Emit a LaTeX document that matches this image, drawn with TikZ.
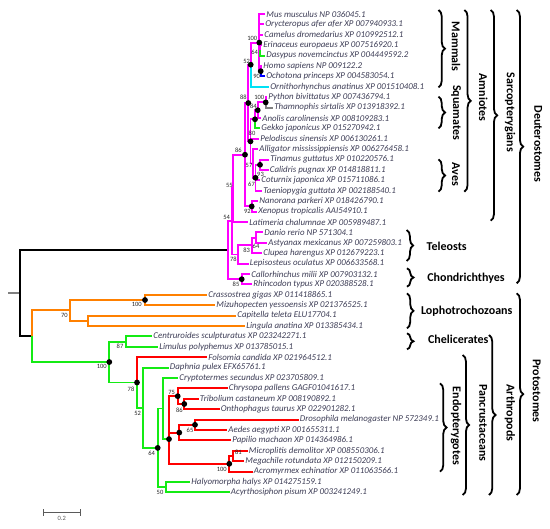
\documentclass[tikz,border=0pt]{standalone}
\usepackage{fontspec}
\setmainfont{Carlito}
\usetikzlibrary{decorations.pathreplacing}
\definecolor{mag}{RGB}{255,0,255}
\definecolor{org}{RGB}{255,128,0}
\definecolor{grn}{RGB}{20,235,20}
\definecolor{rd}{RGB}{255,0,0}
\definecolor{cyn}{RGB}{0,225,245}
\definecolor{blu}{RGB}{0,0,255}
\definecolor{gry}{RGB}{128,128,128}
\definecolor{txt}{RGB}{60,60,85}
\begin{document}
\begin{tikzpicture}[x=1pt,y=-1pt,
  br/.style={line width=1.9pt},
  leaf/.style={anchor=west,inner xsep=1.2pt,inner ysep=0.5pt,text=txt,font=\fontsize{8.9}{10}\selectfont\itshape},
  bs/.style={inner sep=0pt,text=black!85,font=\fontsize{6.5}{7}\selectfont},
  dot/.style={fill=black},
  grp/.style={inner sep=0pt,font=\fontsize{12}{14}\selectfont\bfseries},
  brc/.style={decorate,decoration={brace,amplitude=6.5pt,aspect=0.5},line width=1.8pt}]
\useasboundingbox (0,0) rectangle (550,529);
% ---------- internal nodes ----------
\coordinate (rs) at (8,293.25);
\coordinate (root) at (20,293.25);
\coordinate (D) at (227.7,250.3);
\coordinate (n54) at (232.3,221.4);
\coordinate (n55) at (233.3,188.4);
\coordinate (n86) at (245,154.7);
\coordinate (n88) at (248.3,103.05);
\coordinate (n52) at (250.7,64.7);
\coordinate (nMam) at (259.3,42.6);
\coordinate (nM64) at (260.3,50.4);
\coordinate (nM90) at (260.7,71.2);
\coordinate (n80) at (250.5,141.4);
\coordinate (nSq) at (255,119.3);
\coordinate (n84) at (257.7,110.2);
\coordinate (nPy) at (265.7,102.4);
\coordinate (n57) at (252.7,163.5);
\coordinate (nAv) at (255.5,177.8);
\coordinate (n93) at (260,164.8);
\coordinate (n92) at (251.7,206.4);
\coordinate (n78f) at (237.7,254.5);
\coordinate (n83) at (251.7,245.4);
\coordinate (n64f) at (256,237.6);
\coordinate (nCh) at (241.7,279.2);
\coordinate (nProt) at (31.7,336.2);
\coordinate (n70) at (70,310.4);
\coordinate (n100L) at (145,300);
\coordinate (nCL) at (88.3,320.8);
\coordinate (n100G) at (109.3,362.05);
\coordinate (nChel) at (126,341.6);
\coordinate (n78p) at (137,382.5);
\coordinate (n52p) at (143.3,407.75);
\coordinate (n64p) at (157.7,447.9);
\coordinate (nG) at (163.3,408.55);
\coordinate (nEndo) at (169,439.1);
\coordinate (n75) at (177.7,396.2);
\coordinate (n86i) at (184.3,404);
\coordinate (nDL) at (179.3,432.6);
\coordinate (n65) at (195,424.8);
\coordinate (nHym) at (229.3,463.8);
\coordinate (n81) at (233.3,456);
\coordinate (n50) at (165.7,487.2);
% ---------- leaves (branch ends) ----------
\coordinate (Mus) at (265,14);
\coordinate (Oryc) at (264,24.4);
\coordinate (Came) at (263,34.8);
\coordinate (Erin) at (262,45.2);
\coordinate (Dasy) at (265,55.6);
\coordinate (Homo) at (262,66);
\coordinate (Ocho) at (265,76.4);
\coordinate (Orni) at (269,86.8);
\coordinate (Pyth) at (267,97.2);
\coordinate (Tham) at (273,107.6);
\coordinate (Anol) at (261,118);
\coordinate (Gekk) at (260,128.4);
\coordinate (Pelo) at (259,138.8);
\coordinate (Alli) at (258,149.2);
\coordinate (Tina) at (269,159.6);
\coordinate (Cali) at (268.5,170);
\coordinate (Cotu) at (260,180.4);
\coordinate (Taen) at (262,190.8);
\coordinate (Nano) at (258,201.2);
\coordinate (Xeno) at (257,211.6);
\coordinate (Lati) at (248,222);
\coordinate (Dani) at (263,232.4);
\coordinate (Asty) at (267,242.8);
\coordinate (Clup) at (262,253.2);
\coordinate (Lepi) at (248.5,263.6);
\coordinate (Call) at (250,274);
\coordinate (Rhin) at (252,284.4);
\coordinate (Cras) at (207,294.8);
\coordinate (Mizu) at (215,305.2);
\coordinate (Capi) at (236,315.6);
\coordinate (Ling) at (245,326);
\coordinate (Cent) at (152,336.4);
\coordinate (Limu) at (158,346.8);
\coordinate (Fols) at (207,357.2);
\coordinate (Daph) at (168.5,367.6);
\coordinate (Cryp) at (178,378);
\coordinate (Chry) at (227.5,388.4);
\coordinate (Trib) at (198.5,398.8);
\coordinate (Onth) at (219.5,409.2);
\coordinate (Dros) at (298.5,419.6);
\coordinate (Aede) at (227,430);
\coordinate (Papi) at (231,440.4);
\coordinate (Micr) at (247.5,450.8);
\coordinate (Mega) at (244,461.2);
\coordinate (Acro) at (252.5,471.6);
\coordinate (Haly) at (190,482);
\coordinate (Acyr) at (229.5,492.4);
% ---------- branches ----------
\draw[br,gry] (rs) -- (root);
\foreach \a/\b in {root/D,root/nProt}
  \draw[br,black] (\a) |- (\b);
\foreach \a/\b in {D/n54,D/nCh,n54/n55,n54/n78f,n55/n86,n55/Lati,n86/n88,n86/n92,
  n88/n52,n88/n80,n52/nMam,nMam/Mus,nMam/Oryc,nMam/Came,nMam/nM64,nMam/nM90,
  nM64/Erin,nM90/Homo,n80/nSq,n80/Pelo,n80/n57,nSq/n84,n84/nPy,n84/Anol,nPy/Pyth,
  n57/Alli,n57/nAv,nAv/n93,nAv/Cotu,nAv/Taen,n93/Tina,n93/Cali,n92/Nano,n92/Xeno,
  n78f/n83,n78f/Lepi,n83/n64f,n83/Clup,n64f/Dani,n64f/Asty,nCh/Call,nCh/Rhin}
  \draw[br,mag] (\a) |- (\b);
\draw[br,cyn] (n52) |- (Orni);
\draw[br,grn] (nM64) |- (Dasy);
\draw[br,blu] (nM90) |- (Ocho);
\draw[br,gry] (nPy) |- (Tham);
\draw[br,grn] (nSq) |- (Gekk);
\foreach \a/\b in {nProt/n70,n70/n100L,n70/nCL,n100L/Cras,n100L/Mizu,nCL/Capi,nCL/Ling}
  \draw[br,org] (\a) |- (\b);
\foreach \a/\b in {nProt/n100G,n100G/nChel,n100G/n78p,nChel/Cent,nChel/Limu,n78p/n52p,
  n52p/Daph,n52p/n64p,n64p/nG,n64p/n50,nG/Cryp,nG/nEndo,n50/Haly,n50/Acyr}
  \draw[br,grn] (\a) |- (\b);
\foreach \a/\b in {n78p/Fols,nEndo/n75,nEndo/nDL,nEndo/nHym,n75/Chry,n75/n86i,
  n86i/Trib,n86i/Onth,nDL/n65,nDL/Papi,n65/Dros,n65/Aede,nHym/n81,nHym/Acro,
  n81/Micr,n81/Mega}
  \draw[br,rd] (\a) |- (\b);
% ---------- dots ----------
\foreach \n in {nMam,n52,nM90,n88,nPy,n84,nSq,n80,n86,n93,nAv,n92,nCh,
  n100L,n100G,n78p,n75,n86i,nDL,n65,nEndo,n64p,nHym}
  \fill[dot] (\n) circle (2.9pt);
% ---------- leaf names ----------
\node[leaf] (tMus) at (Mus) {Mus musculus NP 036045.1};
\node[leaf] (tOryc) at (Oryc) {Orycteropus afer afer XP 007940933.1};
\node[leaf] (tCame) at (Came) {Camelus dromedarius XP 010992512.1};
\node[leaf] (tErin) at (Erin) {Erinaceus europaeus XP 007516920.1};
\node[leaf] (tDasy) at (Dasy) {Dasypus novemcinctus XP 004449592.2};
\node[leaf] (tHomo) at (Homo) {Homo sapiens NP 009122.2};
\node[leaf] (tOcho) at (Ocho) {Ochotona princeps XP 004583054.1};
\node[leaf] (tOrni) at (Orni) {Ornithorhynchus anatinus XP 001510408.1};
\node[leaf] (tPyth) at (Pyth) {Python bivittatus XP 007436794.1};
\node[leaf] (tTham) at (Tham) {Thamnophis sirtalis XP 013918392.1};
\node[leaf] (tAnol) at (Anol) {Anolis carolinensis XP 008109283.1};
\node[leaf] (tGekk) at (Gekk) {Gekko japonicus XP 015270942.1};
\node[leaf] (tPelo) at (Pelo) {Pelodiscus sinensis XP 006130261.1};
\node[leaf] (tAlli) at (Alli) {Alligator mississippiensis XP 006276458.1};
\node[leaf] (tTina) at (Tina) {Tinamus guttatus XP 010220576.1};
\node[leaf] (tCali) at (Cali) {Calidris pugnax XP 014818811.1};
\node[leaf] (tCotu) at (Cotu) {Coturnix japonica XP 015711086.1};
\node[leaf] (tTaen) at (Taen) {Taeniopygia guttata XP 002188540.1};
\node[leaf] (tNano) at (Nano) {Nanorana parkeri XP 018426790.1};
\node[leaf] (tXeno) at (Xeno) {Xenopus tropicalis AAI54910.1};
\node[leaf] (tLati) at (Lati) {Latimeria chalumnae XP 005989487.1};
\node[leaf] (tDani) at (Dani) {Danio rerio NP 571304.1};
\node[leaf] (tAsty) at (Asty) {Astyanax mexicanus XP 007259803.1};
\node[leaf] (tClup) at (Clup) {Clupea harengus XP 012679223.1};
\node[leaf] (tLepi) at (Lepi) {Lepisosteus oculatus XP 006633568.1};
\node[leaf] (tCall) at (Call) {Callorhinchus milii XP 007903132.1};
\node[leaf] (tRhin) at (Rhin) {Rhincodon typus XP 020388528.1};
\node[leaf] (tCras) at (Cras) {Crassostrea gigas XP 011418865.1};
\node[leaf] (tMizu) at (Mizu) {Mizuhopecten yessoensis XP 021376525.1};
\node[leaf] (tCapi) at (Capi) {Capitella teleta ELU17704.1};
\node[leaf] (tLing) at (Ling) {Lingula anatina XP 013385434.1};
\node[leaf] (tCent) at (Cent) {Centruroides sculpturatus XP 023242271.1};
\node[leaf] (tLimu) at (Limu) {Limulus polyphemus XP 013785015.1};
\node[leaf] (tFols) at (Fols) {Folsomia candida XP 021964512.1};
\node[leaf] (tDaph) at (Daph) {Daphnia pulex EFX65761.1};
\node[leaf] (tCryp) at (Cryp) {Cryptotermes secundus XP 023705809.1};
\node[leaf] (tChry) at (Chry) {Chrysopa pallens GAGF01041617.1};
\node[leaf] (tTrib) at (Trib) {Tribolium castaneum XP 008190892.1};
\node[leaf] (tOnth) at (Onth) {Onthophagus taurus XP 022901282.1};
\node[leaf] (tDros) at (Dros) {Drosophila melanogaster NP 572349.1};
\node[leaf] (tAede) at (Aede) {Aedes aegypti XP 001655311.1};
\node[leaf] (tPapi) at (Papi) {Papilio machaon XP 014364986.1};
\node[leaf] (tMicr) at (Micr) {Microplitis demolitor XP 008550306.1};
\node[leaf] (tMega) at (Mega) {Megachile rotundata XP 012150209.1};
\node[leaf] (tAcro) at (Acro) {Acromyrmex echinatior XP 011063566.1};
\node[leaf] (tHaly) at (Haly) {Halyomorpha halys XP 014275159.1};
\node[leaf] (tAcyr) at (Acyr) {Acyrthosiphon pisum XP 003241249.1};
% ---------- bootstrap values ----------
\node[bs] (b1) at (252.3,38.3) {100};
\node[bs] (b2) at (254.7,52.3) {64};
\node[bs] (b3) at (246.7,61) {52};
\node[bs] (b4) at (256.7,76) {90};
\node[bs] (b5) at (243.3,97.5) {88};
\node[bs] (b6) at (259.2,97.5) {100};
\node[bs] (b7) at (253.3,106) {84};
\node[bs] (b8) at (252,133) {80};
\node[bs] (b9) at (238.3,150) {86};
\node[bs] (b10) at (249,165) {57};
\node[bs] (b11) at (260.5,174) {93};
\node[bs] (b12) at (251.5,184.3) {67};
\node[bs] (b13) at (229.3,185) {55};
\node[bs] (b14) at (247.3,211.7) {92};
\node[bs] (b15) at (226.7,217.3) {54};
\node[bs] (b16) at (256,246.5) {64};
\node[bs] (b17) at (246.7,250.7) {83};
\node[bs] (b18) at (233.3,259.5) {78};
\node[bs] (b19) at (236,284) {85};
\node[bs] (b20) at (136.7,304.7) {100};
\node[bs] (b21) at (64.3,315.3) {70};
\node[bs] (b22) at (120,346) {87};
\node[bs] (b23) at (101.7,366.7) {100};
\node[bs] (b24) at (131,389) {78};
\node[bs] (b25) at (137.7,413) {52};
\node[bs] (b26) at (171.7,392.7) {75};
\node[bs] (b27) at (179.3,410) {86};
\node[bs] (b28) at (190,430) {65};
\node[bs] (b29) at (151.7,453.3) {64};
\node[bs] (b30) at (238.3,452.3) {81};
\node[bs] (b31) at (221.7,469.3) {100};
\node[bs] (b32) at (160,492.3) {50};
% ---------- braces and group names ----------
\draw[brc] (438.5,10) -- (438.5,87.3);
\node[grp,rotate=-90] (gMam) at (456,46.7) {Mammals};
\draw[brc] (438.5,96.7) -- (438.5,128.3);
\node[grp,rotate=-90] (gSqu) at (456,112.5) {Squamates};
\draw[brc] (438.5,159.3) -- (438.5,191.7);
\node[grp,rotate=-90] (gAve) at (456,174.5) {Aves};
\draw[brc] (464.3,10) -- (464.3,191.7);
\node[grp,rotate=-90] (gAmn) at (483.3,97.5) {Amniotes};
\draw[brc] (490.7,10) -- (490.7,220.7);
\node[grp,rotate=-90] (gSar) at (510,112.5) {Sarcopterygians};
\draw[brc] (516.7,10) -- (516.7,283.3);
\node[grp,rotate=-90] (gDeu) at (538.3,144) {Deuterostomes};
\draw[brc] (406.7,230) -- (406.7,261);
\node[grp] (gTel) at (446.7,246) {Teleosts};
\draw[brc] (407,268.3) -- (407,286.7);
\node[grp] (gCho) at (466,278.3) {Chondrichthyes};
\draw[brc] (407,293.3) -- (407,328.3);
\node[grp] (gLop) at (466.7,311) {Lophotrochozoans};
\draw[brc] (407,333.3) -- (407,349.3);
\node[grp] (gChe) at (458.3,339.3) {Chelicerates};
\draw[brc] (489,335) -- (489,495);
\node[grp,rotate=-90] (gArt) at (510,413) {Arthropods};
\draw[brc] (462.7,355) -- (462.7,495);
\node[grp,rotate=-90] (gPan) at (483.3,423) {Pancrustaceans};
\draw[brc] (440,383.3) -- (440,471.7);
\node[grp,rotate=-90] (gEnd) at (456,426) {Endopterygotes};
\draw[brc] (516.7,293.3) -- (516.7,495);
\node[grp,rotate=-90] (gPro) at (536.7,391) {Protostomes};
% ---------- scale bar ----------
\coordinate (sb1) at (43.3,512.3);
\coordinate (sb2) at (80.7,512.3);
\draw[gry!70!black,line width=0.8pt,{|-|}] (sb1) -- (sb2);
\node[bs,text=gry!70!black] (sbt) at (61.7,518) {0.2};
\end{tikzpicture}
\end{document}
